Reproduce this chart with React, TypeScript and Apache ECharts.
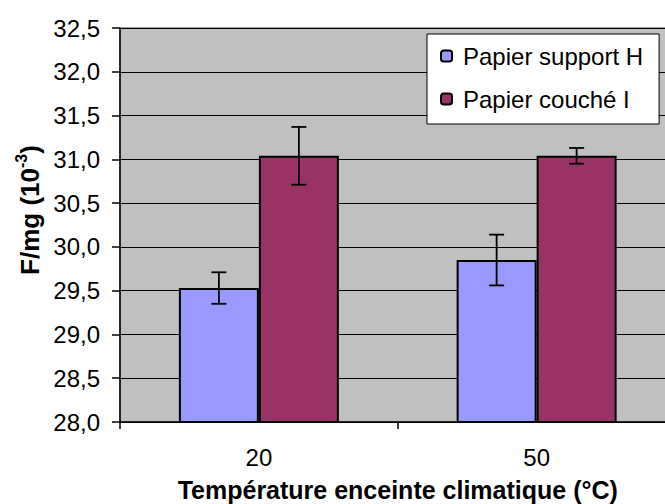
import React, { useEffect, useRef } from "react";
import * as echarts from "echarts";

const categories = ["20", "50"];
const supportH = [29.53, 29.85];
const supportHErr = [0.18, 0.29];
const coucheI = [31.04, 31.04];
const coucheIErr = [0.33, 0.09];
const seriesNames = ["Papier support H", "Papier couché I"];

const FONT = "'Liberation Sans', Arial, sans-serif";
const GAP = 0.424;

function errorSeries(name: string, values: number[], errs: number[], side: number) {
  return {
    type: "custom",
    name: name + " err",
    z: 5,
    silent: true,
    data: values.map((v, i) => [i, v, errs[i]]),
    encode: { x: 0, y: 1 },
    renderItem: (params: any, api: any) => {
      const ci = api.value(0);
      const v = api.value(1);
      const e = api.value(2);
      const band = api.size([1, 0])[0];
      const barW = (band * (1 - GAP)) / 2;
      const c = api.coord([ci, v]);
      const x = c[0] + (side * barW) / 2;
      const top = api.coord([ci, v + e])[1];
      const bot = api.coord([ci, v - e])[1];
      const hw = 7.5;
      const st = { stroke: "#000", lineWidth: 1.8 };
      return {
        type: "group",
        children: [
          { type: "line", shape: { x1: x, y1: top, x2: x, y2: bot }, style: st },
          { type: "line", shape: { x1: x - hw, y1: top, x2: x + hw, y2: top }, style: st },
          { type: "line", shape: { x1: x - hw, y1: bot, x2: x + hw, y2: bot }, style: st },
        ],
      };
    },
  };
}

export default function App() {
  const ref = useRef<HTMLDivElement>(null);
  useEffect(() => {
    if (!ref.current) return;
    const chart = echarts.init(ref.current, undefined, { renderer: "svg" });
    chart.setOption({
      animation: false,
      backgroundColor: "#ffffff",
      textStyle: { fontFamily: FONT },
      grid: {
        left: 120,
        top: 28,
        right: -10.5,
        bottom: 82,
        outerBoundsMode: "none",
        containLabel: false,
        show: true,
        backgroundColor: "#C0C0C0",
        borderColor: "#808080",
        borderWidth: 1.5,
      },
      legend: {
        orient: "vertical",
        left: 427,
        top: 34,
        width: 230,
        data: seriesNames,
        backgroundColor: "#ffffff",
        borderColor: "#000000",
        borderWidth: 1,
        padding: [10, 16, 13, 13],
        itemGap: 19,
        itemWidth: 11,
        itemHeight: 11,
        textStyle: { fontSize: 24, color: "#000", fontFamily: FONT, padding: [0, 0, 0, 6] },
      },
      xAxis: {
        type: "category",
        data: categories,
        name: "Température enceinte climatique (°C)",
        nameLocation: "middle",
        nameGap: 55,
        nameTextStyle: { fontSize: 25, fontWeight: "bold", color: "#000", fontFamily: FONT, lineHeight: 26 },
        axisLine: { lineStyle: { color: "#000", width: 1.5 } },
        axisTick: { show: true, length: 7, lineStyle: { color: "#000", width: 1.5 } },
        axisLabel: { fontSize: 24, color: "#000", margin: 23, fontFamily: FONT },
      },
      yAxis: {
        type: "value",
        min: 28,
        max: 32.5,
        interval: 0.5,
        axisLine: { show: true, lineStyle: { color: "#000", width: 1.5 } },
        axisTick: { show: true, length: 8, lineStyle: { color: "#000", width: 1.5 } },
        axisLabel: {
          fontSize: 24,
          color: "#000",
          margin: 20,
          fontFamily: FONT,
          formatter: (v: number) => v.toFixed(1).replace(".", ","),
        },
        splitLine: { show: true, lineStyle: { color: "#000", width: 1 } },
      },
      graphic: [
        {
          type: "text",
          x: 28,
          y: 210,
          rotation: Math.PI / 2,
          style: {
            text: "{b|F/mg (10}{s|-3}{b|)}",
            align: "center",
            verticalAlign: "middle",
            fill: "#000",
            rich: {
              b: { fontSize: 26, fontWeight: "bold", fontFamily: FONT, fill: "#000", lineHeight: 30, verticalAlign: "bottom" },
              s: { fontSize: 16, fontWeight: "bold", fontFamily: FONT, fill: "#000", lineHeight: 30, verticalAlign: "top", padding: [0, 0, 10, 0] },
            },
          },
        },
      ],
      series: [
        {
          type: "bar",
          name: seriesNames[0],
          data: supportH,
          barGap: "0%",
          barCategoryGap: GAP * 100 + "%",
          itemStyle: { color: "#9999FF", borderColor: "#000", borderWidth: 2 },
        },
        {
          type: "bar",
          name: seriesNames[1],
          data: coucheI,
          barGap: "0%",
          barCategoryGap: GAP * 100 + "%",
          itemStyle: { color: "#993366", borderColor: "#000", borderWidth: 2 },
        },
        errorSeries(seriesNames[0], supportH, supportHErr, -1),
        errorSeries(seriesNames[1], coucheI, coucheIErr, 1),
      ],
    });
    return () => chart.dispose();
  }, []);
  return (
    <div
      ref={ref}
      style={{ position: "fixed", left: 0, top: 0, width: 665, height: 504 }}
    />
  );
}
